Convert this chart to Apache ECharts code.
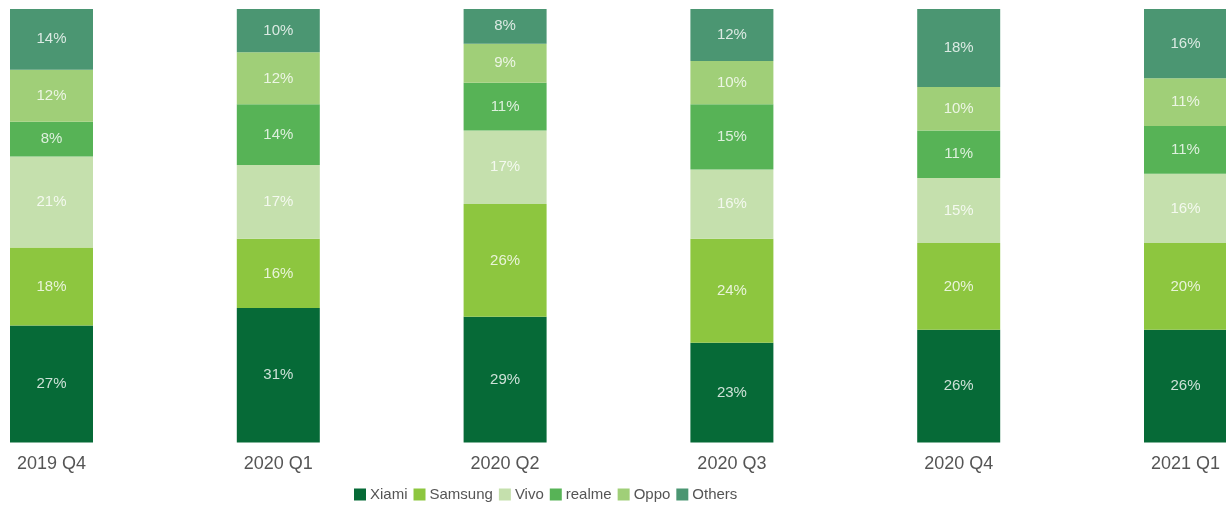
<!DOCTYPE html>
<html><head><meta charset="utf-8">
<script src="https://cdn.jsdelivr.net/npm/echarts@6/dist/echarts.min.js"></script>
<style>html,body{margin:0;padding:0;background:#fff}#c{width:1226px;height:505px}</style>
</head><body><div id="c"></div>
<script>
const categories = ['2019 Q4','2020 Q1','2020 Q2','2020 Q3','2020 Q4','2021 Q1'];
const seriesNames = ['Xiami','Samsung','Vivo','realme','Oppo','Others'];
const xiami   = [27,31,29,23,26,26];
const samsung = [18,16,26,24,20,20];
const vivo    = [21,17,17,16,15,16];
const realme  = [8,14,11,15,11,11];
const oppo    = [12,12,9,10,10,11];
const others  = [14,10,8,12,18,16];
const values = [xiami,samsung,vivo,realme,oppo,others];
const colors = ['#066A37','#8DC63F','#C5E0AD','#57B356','#A0CF78','#4B9672'];
const FONT = 'Liberation Sans, Arial, sans-serif';

const chart = echarts.init(document.getElementById('c'));
chart.setOption({
  animation:false,
  color: colors,
  legend:{
    left:354, top:487, padding:0, itemWidth:12, itemHeight:12, itemGap:6,
    icon:'rect',
    textStyle:{color:'#555', fontSize:15, padding:[0,0,0,-1], fontFamily:FONT},
    data: seriesNames
  },
  grid:{left:51.5, right:40.5, top:9, bottom:62.5},
  xAxis:{
    type:'category', data:categories, boundaryGap:false,
    axisLine:{show:false}, axisTick:{show:false},
    axisLabel:{color:'#555', fontSize:18, margin:13, fontFamily:FONT}
  },
  yAxis:{type:'value', min:0, max:100, show:false, splitLine:{show:false}},
  series: seriesNames.map((n,i)=>({
    name:n, type:'bar', stack:'s', data:values[i], barWidth:83,
    itemStyle:{color:colors[i]},
    label:{show:true, position:'inside', formatter:'{c}%', color:'rgba(255,255,255,0.8)', fontSize:15,
      fontFamily:FONT}
  }))
});
</script></body></html>
